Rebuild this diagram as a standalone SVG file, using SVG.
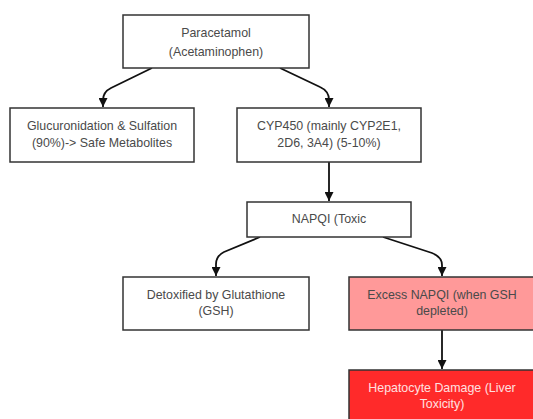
<svg xmlns="http://www.w3.org/2000/svg" width="533" height="419" viewBox="0 0 533 419">
<style>
.box{fill:#ffffff;stroke:#333333;stroke-width:1.5}
.t{font-family:"Liberation Sans","DejaVu Sans",sans-serif;font-size:12.4px;fill:#4a4a4a;text-anchor:middle}
.edge{fill:none;stroke:#111111;stroke-width:1.8}
</style>
<defs>
<marker id="arr" viewBox="0 0 10 10" refX="10" refY="5" markerWidth="9" markerHeight="9" markerUnits="userSpaceOnUse" orient="auto">
<path d="M0,0 L10,5 L0,10 z" fill="#111111"/>
</marker>
</defs>
<rect width="533" height="419" fill="#ffffff"/>
<g id="connectors">
<path class="edge" marker-end="url(#arr)" d="M152,68 L111,88 Q103,92 103,100 L103,107"/>
<path class="edge" marker-end="url(#arr)" d="M280,68 L320,87 Q329,91 329,100 L329,107"/>
<path class="edge" marker-end="url(#arr)" d="M329,162 L329,201"/>
<path class="edge" marker-end="url(#arr)" d="M260,237 L224,252 Q216,256 216,264 L216,276"/>
<path class="edge" marker-end="url(#arr)" d="M383,237 L432,253 Q442,257 442,265 L442,276"/>
<path class="edge" marker-end="url(#arr)" d="M442,330 L442,369"/>
</g>
<g id="paracetamol">
<rect class="box" x="123" y="15" width="186" height="53"/>
<text class="t" x="216" y="37">Paracetamol</text>
<text class="t" x="216" y="56">(Acetaminophen)</text>
</g>
<g id="glucuronidation">
<rect class="box" x="10" y="108" width="184" height="54"/>
<text class="t" x="102" y="130">Glucuronidation &amp; Sulfation</text>
<text class="t" x="102" y="147">(90%)-&gt; Safe Metabolites</text>
</g>
<g id="cyp450">
<rect class="box" x="237" y="108" width="184" height="54"/>
<text class="t" x="329" y="130">CYP450 (mainly CYP2E1,</text>
<text class="t" x="329" y="147">2D6, 3A4) (5-10%)</text>
</g>
<g id="napqi">
<rect class="box" x="247" y="202" width="164" height="35"/>
<text class="t" x="329" y="223">NAPQI (Toxic</text>
</g>
<g id="detoxified">
<rect class="box" x="123" y="277" width="186" height="53"/>
<text class="t" x="216" y="299">Detoxified by Glutathione</text>
<text class="t" x="216" y="315">(GSH)</text>
</g>
<g id="excess">
<rect class="box" x="349" y="277" width="186" height="53" style="fill:#ff9999"/>
<text class="t" x="442" y="299">Excess NAPQI (when GSH</text>
<text class="t" x="442" y="315">depleted)</text>
</g>
<g id="hepatocyte">
<rect class="box" x="349" y="370" width="186" height="55" style="fill:#ff2a2a"/>
<text class="t" x="442" y="392" style="fill:#ffe0e0">Hepatocyte Damage (Liver</text>
<text class="t" x="442" y="408" style="fill:#ffe0e0">Toxicity)</text>
</g>
</svg>
